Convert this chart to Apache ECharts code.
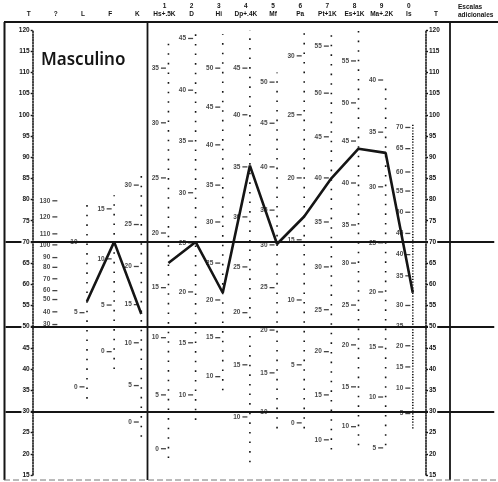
<!DOCTYPE html>
<html>
<head>
<meta charset="utf-8">
<script src="https://cdn.jsdelivr.net/npm/echarts@6/dist/echarts.min.js"></script>
<style>
    html, body { margin: 0; padding: 0; background: #fff; }
    #chartmain_profile { width: 498px; height: 482px; }
</style>
</head>
<body>
<div id="chartmain_profile"></div>
<script>
// 表头：量表名称与编号
const scaleNames = ['T', '?', 'L', 'F', 'K', 'Hs+.5K', 'D', 'Hi', 'Dp+.4K', 'Mf', 'Pa', 'Pt+1K', 'Es+1K', 'Ma+.2K', 'Is', 'T'];
const scaleNumbers = ['', '', '', '', '', '1', '2', '3', '4', '5', '6', '7', '8', '9', '0', ''];

// 剖面图 T 分数
const validityIdx = [2, 3, 4];
const validityT = [56, 70, 53];
const clinicalIdx = [5, 6, 7, 8, 9, 10, 11, 12, 13, 14];
const clinicalT = [65, 70, 58, 88, 69.5, 76, 85, 92, 91, 58];

// T 轴
const tMin = 15;
const tMax = 120;
const tStep = 5;
const tLines = [70, 50, 30];

// 各量表原始分刻度 [原始分, T]
const rawQ = [[130, 79.7], [120, 75.9], [110, 71.9], [100, 69.3], [90, 66.3], [80, 64], [70, 61.3], [60, 58.5], [50, 56.4], [40, 53.5], [30, 50.5]];
const rawL = [[10, 70], [5, 53.3], [0, 35.8]];
const rawF = [[15, 77.8], [10, 66], [5, 55.1], [0, 44.1]];
const rawK = [[30, 83.4], [25, 74.1], [20, 64.2], [15, 55.2], [10, 46.2], [5, 36.1], [0, 27.5]];
const rawHs = [[35, 111], [30, 98.1], [25, 85.1], [20, 72.1], [15, 59.2], [10, 47.4], [5, 33.9], [0, 21.2]];
const rawD = [[45, 118], [40, 105.8], [35, 93.8], [30, 81.6], [25, 69.8], [20, 58.2], [15, 46.2], [10, 33.9]];
const rawHi = [[50, 111], [45, 101.8], [40, 92.9], [35, 83.4], [30, 74.7], [25, 65], [20, 56.3], [15, 47.4], [10, 38.2]];
const rawDp = [[45, 111], [40, 100], [35, 87.7], [30, 75.9], [25, 64.1], [20, 53.3], [15, 41], [10, 28.7]];
const rawMf = [[50, 107.7], [45, 98], [40, 87.7], [35, 77.5], [30, 69.3], [25, 59.2], [20, 49.2], [15, 39.1], [10, 29.9]];
const rawPa = [[30, 113.9], [25, 100], [20, 85.1], [15, 70.5], [10, 56.3], [5, 41], [0, 27.3]];
const rawPt = [[55, 116.2], [50, 105.1], [45, 94.8], [40, 85.1], [35, 74.7], [30, 64.1], [25, 54], [20, 44.1], [15, 33.9], [10, 23.3]];
const rawEs = [[55, 112.7], [50, 102.8], [45, 93.8], [40, 83.9], [35, 74], [30, 65], [25, 55.1], [20, 45.7], [15, 35.8], [10, 26.4]];
const rawMa = [[40, 108.2], [35, 95.9], [30, 83], [25, 69.8], [20, 58.2], [15, 45.2], [10, 33.4], [5, 21.4]];
const rawIs = [[70, 97], [65, 92], [60, 86.5], [55, 82], [50, 77], [45, 72], [40, 67], [35, 62], [30, 55], [25, 50], [20, 45.5], [15, 40.5], [10, 35.5], [5, 29.5]];
const rawColumns = [[1, rawQ], [2, rawL], [3, rawF], [4, rawK], [5, rawHs], [6, rawD], [7, rawHi], [8, rawDp], [9, rawMf], [10, rawPa], [11, rawPt], [12, rawEs], [13, rawMa], [14, rawIs]];

// 各量表点线的范围 [列, 下限 T, 上限 T]
const columnSpans = [[2, 33, 80], [3, 40, 81], [4, 24, 87], [5, 19, 118], [6, 28, 120], [7, 35, 119], [8, 18, 120], [9, 26, 110], [10, 26, 120], [11, 21, 120], [12, 22, 120], [13, 22, 108], [14, 26, 98]];

const chart = echarts.init(document.getElementById('chartmain_profile'));

const ink = '#151515';
const smallFont = { fontSize: 6.5, fontWeight: 'bold', color: ink, fontFamily: 'Liberation Sans' };

const series = [];

// T 70 / 50 / 30 横线
series.push({
    type: 'line',
    data: [],
    z: 2,
    markLine: {
        silent: true,
        symbol: 'none',
        label: { show: false },
        lineStyle: { color: ink, width: 2, type: 'solid' },
        data: tLines.map(t => ({ yAxis: t }))
    }
});

// 各量表的点线
columnSpans.forEach(s => {
    series.push({
        type: 'line',
        data: [[s[0], s[1]], [s[0], s[2]]],
        symbol: 'none',
        silent: true,
        z: 2,
        lineStyle: { color: ink, width: 1.6, type: s[0] === 14 ? [1.2, 1.6] : [1.6, 8] }
    });
});

// 原始分刻度
rawColumns.forEach(c => {
    series.push({
        type: 'scatter',
        data: c[1].map(p => [c[0], p[1], p[0]]),
        symbol: 'rect',
        symbolSize: [5, 1.3],
        symbolOffset: [-5, 0],
        itemStyle: { color: ink },
        silent: true,
        z: 3,
        label: Object.assign({
            show: true,
            position: 'left',
            distance: 1,
            formatter: p => p.value[2],
            backgroundColor: '#fff',
            padding: [0, 1]
        }, smallFont)
    });
});

// 剖面线
[[validityIdx, validityT], [clinicalIdx, clinicalT]].forEach(g => {
    series.push({
        type: 'line',
        data: g[0].map((x, k) => [x, g[1][k]]),
        symbol: 'none',
        z: 6,
        lineStyle: { color: ink, width: 2.6 }
    });
});

const tAxis = (position, offset) => ({
    type: 'value',
    position: position,
    offset: offset,
    min: tMin,
    max: tMax,
    interval: tStep,
    z: 5,
    axisLine: { show: true, lineStyle: { color: ink, width: 1.6, type: [1.4, 1.4] } },
    axisTick: { show: true, length: 5, lineStyle: { color: ink, width: 1.4 } },
    splitLine: { show: false },
    axisLabel: Object.assign({ margin: 2, backgroundColor: '#fff', padding: [0, 1] }, smallFont)
});

const option = {
    animation: false,
    backgroundColor: '#fff',
    title: {
        text: 'Masculino',
        left: 36,
        top: 47,
        textStyle: { fontSize: 17, fontWeight: 600, color: ink, fontFamily: 'Noto Sans' }
    },
    grid: { left: 5.55, right: 3.75, top: 30, bottom: 7 },
    xAxis: {
        type: 'value',
        position: 'top',
        min: -1,
        max: 17,
        interval: 1,
        axisLine: { show: false },
        axisTick: { show: false },
        splitLine: { show: false },
        axisLabel: {
            margin: 12,
            padding: [0, 8, 0, 0],
            formatter: v => (v >= 0 && v < scaleNames.length) ? '{n|' + (scaleNumbers[v] || ' ') + '}\n{h|' + scaleNames[v] + '}' : '',
            rich: {
                n: Object.assign({ lineHeight: 8 }, smallFont),
                h: Object.assign({ lineHeight: 8 }, smallFont)
            }
        }
    },
    yAxis: [tAxis('left', -27.15), tAxis('right', -68.25)],
    graphic: [
        { type: 'line', shape: { x1: 4.5, y1: 22, x2: 4.5, y2: 480 }, style: { stroke: ink, lineWidth: 2 } },
        { type: 'line', shape: { x1: 4, y1: 22, x2: 498, y2: 22 }, style: { stroke: ink, lineWidth: 2 } },
        { type: 'line', shape: { x1: 147.5, y1: 22, x2: 147.5, y2: 480 }, style: { stroke: ink, lineWidth: 1.8 } },
        { type: 'line', shape: { x1: 450, y1: 22, x2: 450, y2: 480 }, style: { stroke: ink, lineWidth: 1.8 } },
        { type: 'line', shape: { x1: 4, y1: 480, x2: 498, y2: 480 }, style: { stroke: '#777', lineWidth: 1, lineDash: [6, 3] } },
        {
            type: 'text',
            left: 458,
            top: 3,
            style: Object.assign({ text: 'Escalas\nadicionales', align: 'center', lineHeight: 8, fill: ink, font: 'bold 6.5px Liberation Sans' }, {}),
            x: 0
        }
    ],
    series: series
};

function init() {
    chart.setOption(option);
    window.addEventListener('resize', function () {
        chart.resize();
    });
}

init();
</script>
</body>
</html>
